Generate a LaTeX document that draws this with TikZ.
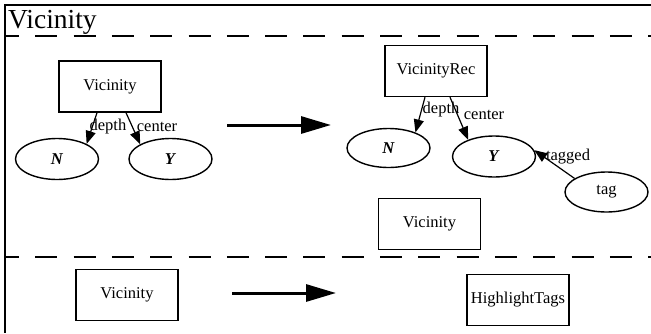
\documentclass[tikz,border=0pt]{standalone}
\usepackage{fontspec}
\setmainfont{Liberation Serif}
\usetikzlibrary{arrows.meta,shapes.geometric}
\begin{document}
\begin{tikzpicture}[x=1pt,y=-1pt,
  every node/.style={font=\fontsize{16.5}{18}\selectfont},
  box/.style={draw,line width=1.4pt,minimum width=102pt,minimum height=51pt,inner sep=0pt},
  oval/.style={draw,ellipse,line width=1.4pt,minimum width=83pt,minimum height=41pt,inner sep=0pt},
  lbl/.style={inner sep=0pt},
  edge/.style={line width=1.2pt,-{Triangle[length=13pt,width=10pt]}},
  bigarrow/.style={line width=3pt,-{Triangle[length=30pt,width=17pt]}},
  sep/.style={line width=1.4pt,dash pattern=on 22pt off 16.3pt,dash phase=8pt}]
\useasboundingbox (0,0) rectangle (651,333);
% frame and section separators
\draw[line width=1.6pt] (651,5) -- (5,5) -- (5,333);
\node[anchor=base west,inner sep=0pt,font=\fontsize{27.5}{30}\selectfont] (title) at (8,28) {Vicinity};
\draw[sep] (5,36) -- (651,36);
\draw[sep] (5,257) -- (651,257);

% first rule: left-hand side
\node[box] (vl) at (110,86.5) {Vicinity};
\node[oval] (nl) at (57,159) {\textbf{\textit{N}}};
\node[oval] (yl) at (170.5,159) {\textbf{\textit{Y}}};
\draw[edge] ([xshift=-13pt]vl.south) -- (nl.27);
\draw[edge] ([xshift=16pt]vl.south) -- (yl.154);
\node[lbl] (dl) at (108,127) {depth};
\node[lbl] (cl) at (157,127) {center};

\coordinate (a1s) at (227,125);
\coordinate (a1e) at (331,125);
\draw[bigarrow] (a1s) -- (a1e);

% first rule: right-hand side
\node[box] (vr) at (436,71) {VicinityRec};
\node[oval,minimum height=39pt] (nr) at (388.5,148) {\textbf{\textit{N}}};
\node[oval] (yr) at (494,156.5) {\textbf{\textit{Y}}};
\node[oval,minimum height=40pt] (tg) at (606.5,192) {tag};
\draw[edge] ([xshift=-11pt]vr.south) -- (nr.30);
\draw[edge] ([xshift=14pt]vr.south) -- (yr.147);
\draw[edge] (tg.157) -- (yr.9);
\node[lbl] (dr) at (441,110) {depth};
\node[lbl] (cr) at (484,115) {center};
\node[lbl] (tr) at (568,157) {tagged};
\node[box] (vx) at (429.5,224) {Vicinity};

% second rule
\node[box] (vb) at (127,295) {Vicinity};
\coordinate (a2s) at (232,293);
\coordinate (a2e) at (336,293);
\draw[bigarrow] (a2s) -- (a2e);
\node[box] (ht) at (518,300) {HighlightTags};
\end{tikzpicture}
\end{document}
